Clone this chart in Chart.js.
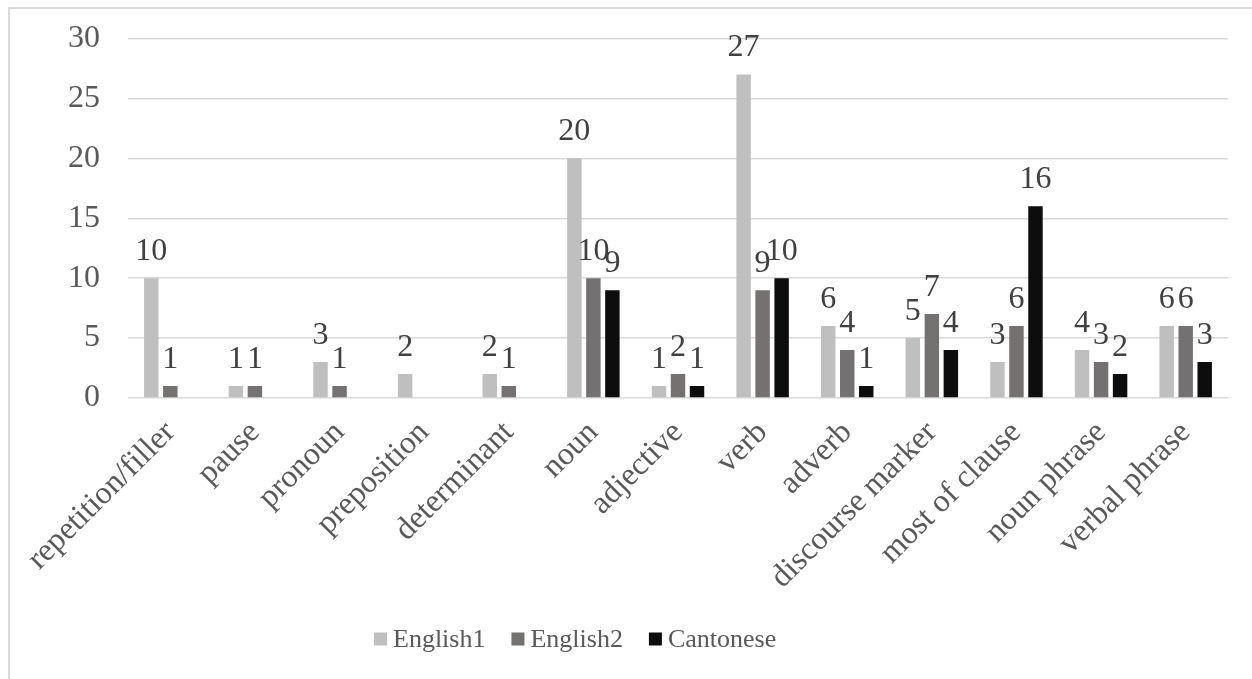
<!DOCTYPE html>
<html>
<head>
<meta charset="utf-8">
<script src="https://cdn.jsdelivr.net/npm/chart.js@4.4.1/dist/chart.umd.min.js"></script>
<style>
  html, body { margin: 0; padding: 0; background: #ffffff; }
  #wrap { position: relative; width: 1252px; height: 679px; overflow: hidden; }
  #frame { position: absolute; left: 8px; top: 7px; width: 1400px; height: 800px;
           border-left: 2px solid #d9d9d9; border-top: 2px solid #d9d9d9; box-sizing: border-box; pointer-events: none; }
  canvas { position: absolute; left: 0; top: 0; }
</style>
</head>
<body>
<div id="wrap">
  <canvas id="c" width="1252" height="679"></canvas>
  <div id="frame"></div>
</div>
<script>
// ---- data ----
const categories = ["repetition/filler", "pause", "pronoun", "preposition", "determinant", "noun",
  "adjective", "verb", "adverb", "discourse marker", "most of clause", "noun phrase", "verbal phrase"];
const seriesNames = ["English1", "English2", "Cantonese"];
const english1 = [10, 1, 3, 2, 2, 20, 1, 27, 6, 5, 3, 4, 6];
const english2 = [1, 1, 1, null, 1, 10, 2, 9, 4, 7, 6, 3, 6];
const cantonese = [null, null, null, null, null, 9, 1, 10, 1, 4, 16, 2, 3];
const yTicks = [0, 5, 10, 15, 20, 25, 30];

// ---- styles ----
const FONT = "'Liberation Serif', 'Times New Roman', serif";
const colors = ["#bfbfbf", "#767171", "#0d0d0d"];

const valueLabels = {
  id: 'valueLabels',
  afterDatasetsDraw(chart) {
    const ctx = chart.ctx;
    ctx.save();
    ctx.font = "32px " + FONT;
    ctx.fillStyle = "#404040";
    ctx.textAlign = "center";
    ctx.textBaseline = "alphabetic";
    chart.data.datasets.forEach((ds, di) => {
      const meta = chart.getDatasetMeta(di);
      meta.data.forEach((bar, i) => {
        const v = ds.data[i];
        if (v === null || v === undefined) return;
        ctx.fillText(String(v), bar.x, bar.y - 18);
      });
    });
    ctx.restore();
  }
};

const customLegend = {
  id: 'customLegend',
  afterDraw(chart) {
    const ctx = chart.ctx;
    ctx.save();
    ctx.font = "26px " + FONT;
    ctx.textBaseline = "middle";
    ctx.textAlign = "left";
    let x = 374;
    const yc = 639;
    chart.data.datasets.forEach((ds) => {
      ctx.fillStyle = ds.backgroundColor;
      ctx.fillRect(x, yc - 6.5, 13, 13);
      ctx.fillStyle = "#595959";
      const tx = x + 19;
      ctx.fillText(ds.label, tx, yc + 1);
      x = tx + ctx.measureText(ds.label).width + 26;
    });
    ctx.restore();
  }
};

new Chart(document.getElementById('c'), {
  type: 'bar',
  data: {
    labels: categories,
    datasets: [
      { label: seriesNames[0], data: english1, backgroundColor: colors[0] },
      { label: seriesNames[1], data: english2, backgroundColor: colors[1] },
      { label: seriesNames[2], data: cantonese, backgroundColor: colors[2] }
    ]
  },
  options: {
    responsive: false,
    animation: false,
    layout: { padding: { left: 0, right: 24, top: 38.5, bottom: 65 } },
    datasets: { bar: { categoryPercentage: 0.674, barPercentage: 0.76 } },
    plugins: { legend: { display: false }, tooltip: { enabled: false } },
    scales: {
      x: {
        grid: { display: false },
        border: { display: false },
        ticks: {
          autoSkip: false, maxRotation: 45, minRotation: 45,
          color: "#595959", font: { family: FONT, size: 32 }, padding: 8
        },
        afterFit(s) { s.height = 216; }
      },
      y: {
        min: 0, max: 30,
        afterBuildTicks(s) { s.ticks = yTicks.map(v => ({ value: v })); },
        grid: { color: "#d9d9d9", lineWidth: 1.5, drawTicks: false },
        border: { display: false },
        ticks: { color: "#595959", font: { family: FONT, size: 32 }, padding: 28 },
        afterFit(s) { s.width = 128; s.paddingTop = 0; s.paddingBottom = 0; }
      }
    }
  },
  plugins: [valueLabels, customLegend]
});
</script>
</body>
</html>
